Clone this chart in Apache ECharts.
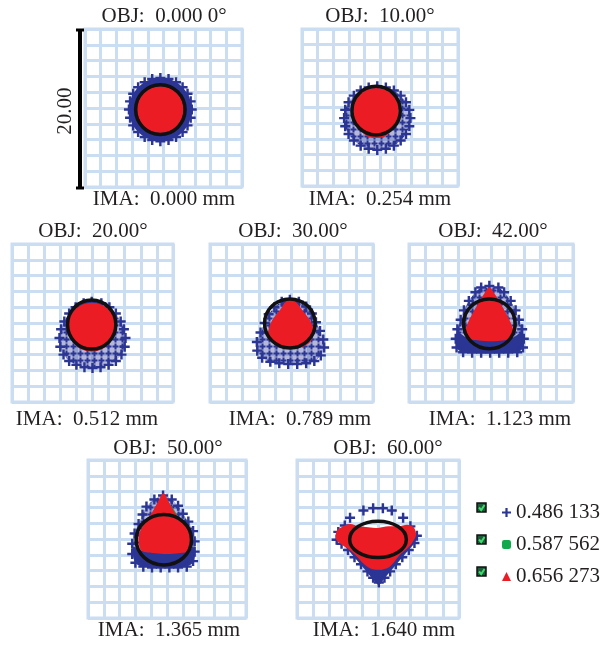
<!DOCTYPE html>
<html>
<head>
<meta charset="utf-8">
<script src="https://cdn.jsdelivr.net/npm/echarts@6/dist/echarts.min.js"></script>
<style>
html, body { margin: 0; padding: 0; background: #ffffff; }
#chart { width: 601px; height: 648px; }
</style>
</head>
<body>
<div id="chart"></div>
<script>
// Spot diagram: seven field points, three wavelengths, Airy disc outline.
// Units are micrometres on the image plane; each box spans 20.00 µm.

const fieldAngles = ['0.000 0°', '10.00°', '20.00°', '30.00°', '42.00°', '50.00°', '60.00°'];
const imageHeights = ['0.000', '0.254', '0.512', '0.789', '1.123', '1.365', '1.640'];
const wavelengths = ['0.486 133', '0.587 562', '0.656 273'];
const boxSize = '20.00';

// 0.486 µm ray hits along the rim of each spot, [x, y]
const blue0 = [[3.6,-0.2],[3.46,0.84],[3.06,1.8],[2.43,2.63],[1.6,3.26],[0.64,3.66],[-0.4,3.8],[-1.44,3.66],[-2.4,3.26],[-3.23,2.63],[-3.86,1.8],[-4.26,0.84],[-4.4,-0.2],[-4.26,-1.24],[-3.86,-2.2],[-3.23,-3.03],[-2.4,-3.66],[-1.44,-4.06],[-0.4,-4.2],[0.64,-4.06],[1.6,-3.66],[2.43,-3.03],[3.06,-2.2],[3.46,-1.24]];
const blue10 = [[3.9,-1.35],[3.76,-0.3],[3.33,0.68],[2.65,1.51],[1.78,2.16],[0.75,2.56],[-0.35,2.7],[-1.45,2.56],[-2.48,2.16],[-3.35,1.51],[-4.03,0.68],[-4.46,-0.3],[-4.6,-1.35],[-4.46,-2.4],[-4.03,-3.38],[-3.35,-4.21],[-2.48,-4.86],[-1.45,-5.26],[-0.35,-5.4],[0.75,-5.26],[1.78,-4.86],[2.65,-4.21],[3.33,-3.38],[3.76,-2.4]];
const blue20 = [[-0.1,2.7],[1.1,2.5],[2.1,2.0],[2.9,1.2],[3.5,0.2],[3.9,-0.8],[4.1,-1.9],[4.0,-3.0],[3.6,-4.0],[2.9,-4.8],[2.0,-5.3],[1.0,-5.6],[0,-5.7],[-1.0,-5.6],[-2.0,-5.3],[-2.9,-4.8],[-3.6,-4.0],[-4.0,-3.0],[-4.1,-1.9],[-3.9,-0.8],[-3.5,0.2],[-2.9,1.2],[-2.1,2.0],[-1.1,2.5]];
const blue30 = [[-0.2,2.95],[0.9,2.7],[1.8,2.1],[2.5,1.2],[3.0,0.1],[3.5,-1.0],[3.9,-2.1],[4.0,-3.1],[3.6,-4.1],[2.8,-4.8],[1.8,-5.1],[0.7,-5.2],[-0.4,-5.2],[-1.5,-5.1],[-2.6,-4.9],[-3.6,-4.4],[-4.2,-3.5],[-4.25,-2.4],[-3.8,-1.2],[-3.3,0.0],[-2.8,1.1],[-2.1,2.0],[-1.2,2.7]];
const blue42 = [[-0.2,4.7],[0.9,4.5],[1.6,3.9],[2.4,2.8],[3.0,1.6],[3.4,0.4],[3.8,-0.8],[4.0,-2.0],[3.9,-3.1],[3.2,-3.7],[2.1,-3.75],[1.0,-3.75],[-0.1,-3.75],[-1.2,-3.75],[-2.3,-3.75],[-3.4,-3.7],[-4.2,-3.1],[-4.3,-2.0],[-4.1,-0.8],[-3.7,0.4],[-3.3,1.6],[-2.7,2.8],[-1.9,3.9],[-1.2,4.5]];
const blue50 = [[-0.5,5.5],[0.6,5.0],[1.4,4.2],[2.0,3.2],[2.7,2.2],[3.3,1.0],[3.5,-0.3],[3.5,-1.6],[3.3,-2.8],[2.5,-3.5],[1.4,-3.6],[0.3,-3.6],[-0.8,-3.6],[-1.9,-3.6],[-3.0,-3.5],[-4.0,-3.0],[-4.4,-1.9],[-4.4,-0.6],[-4.1,0.7],[-3.6,1.9],[-3.1,3.1],[-2.6,4.1],[-1.6,5.0]];
const blue60 = [[-0.6,3.9],[0.6,3.9],[1.7,3.6],[3.1,2.7],[4.0,1.6],[4.8,0.4],[4.5,-0.5],[3.8,-1.4],[3.0,-2.3],[2.2,-3.2],[1.5,-4.1],[0.8,-4.9],[0.1,-5.5],[-0.6,-4.9],[-1.3,-4.1],[-2.1,-3.2],[-2.9,-2.3],[-3.7,-1.4],[-4.5,-0.6],[-5.1,-0.1],[-4.9,0.9],[-4.1,1.7],[-3.45,2.7],[-1.8,3.6]];

// regions where the 0.486 µm hits pile up into a solid patch
const blue42Core = [[-4.1,-1.2],[-2.9,-1.9],[0,-2.2],[2.6,-1.9],[3.8,-1.2],[3.9,-3.1],[3.2,-3.7],[-3.4,-3.7],[-4.2,-3.1]];
const blue50Core = [[-4.3,-1.0],[-3.2,-1.5],[0,-1.8],[2.9,-1.5],[3.5,-1.0],[3.4,-2.8],[2.5,-3.5],[-3.0,-3.5],[-4.0,-3.0]];
const blue60Core = [[-5.0,0.6],[-4.4,-0.5],[-3.6,-1.5],[-2.6,-2.7],[-1.6,-3.9],[-0.7,-5.0],[0.1,-5.8],[0.8,-5.0],[1.7,-3.9],[2.7,-2.7],[3.7,-1.5],[4.5,-0.5],[4.9,0.5],[3.5,1.0],[0,0.6],[-3.5,1.0]];

// 0.587 µm spot outlines
const green0 = [[2.2,-0.2],[1.44,1.64],[-0.4,2.4],[-2.24,1.64],[-3.0,-0.2],[-2.24,-2.04],[-0.4,-2.8],[1.44,-2.04]];
const green10 = [[2.1,-0.4],[1.34,1.44],[-0.5,2.2],[-2.34,1.44],[-3.1,-0.4],[-2.34,-2.24],[-0.5,-3.0],[1.34,-2.24]];
const green20 = [[2.4,-0.4],[1.6,1.5],[-0.1,2.2],[-1.8,1.5],[-2.6,-0.4],[-1.8,-2.4],[-0.1,-3.2],[1.6,-2.4]];
const green30 = [[-0.1,2.5],[2.0,0],[2.3,-1.8],[0.3,-2.8],[-2.1,-2.4],[-2.5,-0.2]];
const green42 = [[-0.2,3.8],[2.2,-0.5],[2.2,-1.8],[-0.2,-2.1],[-2.6,-1.8],[-2.6,-0.5]];
const green50 = [[-0.45,5.0],[2.6,0.5],[2.5,-1.4],[-0.5,-1.7],[-3.0,-1.3],[-3.0,0.5]];
const green60 = [[0,1.2],[3.8,1.2],[2.5,-1.8],[0.1,-3.5],[-2.5,-2.0],[-4.5,0.6]];

// 0.656 µm spot outlines
const red0 = [[2.55,-0.2],[2.33,0.93],[1.69,1.89],[0.73,2.53],[-0.4,2.75],[-1.53,2.53],[-2.49,1.89],[-3.13,0.93],[-3.35,-0.2],[-3.13,-1.33],[-2.49,-2.29],[-1.53,-2.93],[-0.4,-3.15],[0.73,-2.93],[1.69,-2.29],[2.33,-1.33]];
const red10 = [[2.4,-0.4],[2.18,0.71],[1.55,1.65],[0.61,2.28],[-0.5,2.5],[-1.61,2.28],[-2.55,1.65],[-3.18,0.71],[-3.4,-0.4],[-3.18,-1.73],[-2.55,-2.86],[-1.61,-3.68],[-0.5,-3.9],[0.61,-3.68],[1.55,-2.86],[2.18,-1.73]];
const red20 = [[2.85,-0.4],[2.63,0.73],[1.99,1.69],[1.03,2.33],[-0.1,2.55],[-1.23,2.33],[-2.19,1.69],[-2.83,0.73],[-3.05,-0.4],[-2.83,-1.64],[-2.19,-2.7],[-1.23,-3.4],[-0.1,-3.65],[1.03,-3.4],[1.99,-2.7],[2.63,-1.64]];
const red30 = [[-0.1,2.95],[0.6,2.6],[1.2,1.8],[1.8,1.0],[2.4,0.1],[2.7,-0.9],[2.6,-1.8],[2.2,-2.5],[1.4,-3.0],[0.4,-3.2],[-0.6,-3.2],[-1.6,-3.0],[-2.3,-2.5],[-2.75,-1.8],[-2.8,-0.9],[-2.5,0.1],[-1.9,1.0],[-1.3,1.8],[-0.8,2.6]];
const red42 = [[-0.2,4.5],[0.5,3.6],[1.2,2.4],[1.9,1.1],[2.5,-0.2],[2.75,-1.1],[2.6,-1.9],[1.5,-2.2],[0,-2.3],[-1.5,-2.2],[-2.9,-2.0],[-3.1,-1.1],[-2.9,-0.2],[-2.3,1.1],[-1.6,2.4],[-0.9,3.6]];
const red50 = [[-0.45,5.8],[0.3,4.6],[1.1,3.2],[2.2,2.0],[3.0,1.0],[3.2,-0.3],[2.9,-1.5],[1.5,-1.8],[0,-1.9],[-1.5,-1.8],[-3.2,-1.5],[-3.6,-0.3],[-3.4,1.0],[-2.8,2.0],[-2.0,3.2],[-1.2,4.6]];
const red60 = [[0,1.4],[1.3,1.6],[2.6,1.6],[3.6,1.8],[4.4,1.5],[4.7,0.5],[4.2,-0.5],[3.6,-1.2],[2.7,-2.0],[2.0,-2.9],[1.3,-3.6],[0.2,-3.9],[-1.0,-3.7],[-2.0,-2.9],[-2.8,-2.0],[-3.6,-1.3],[-4.5,-0.7],[-5.2,0.0],[-5.1,1.0],[-4.3,1.6],[-3.4,1.9],[-2.4,1.6],[-1.2,1.5]];

// Airy disc: [centre x, centre y, radius x, radius y]
const airy0 = [-0.4, -0.2, 3.15, 3.15];
const airy10 = [-0.5, -0.4, 3.1, 3.1];
const airy20 = [-0.1, -0.2, 3.0, 3.1];
const airy30 = [-0.2, -0.05, 3.1, 3.1];
const airy42 = [-0.2, -0.1, 3.15, 3.15];
const airy50 = [-0.4, -0.1, 3.5, 3.2];
const airy60 = [0.0, -0.05, 3.5, 2.3];

const spots = [
  { hits: blue0,  halo: null,   core: blue0,      green: green0,  red: red0,  airy: airy0 },
  { hits: blue10, halo: blue10, core: null,       green: green10, red: red10, airy: airy10 },
  { hits: blue20, halo: blue20, core: null,       green: green20, red: red20, airy: airy20 },
  { hits: blue30, halo: blue30, core: null,       green: green30, red: red30, airy: airy30 },
  { hits: blue42, halo: blue42, core: blue42Core, green: green42, red: red42, airy: airy42 },
  { hits: blue50, halo: blue50, core: blue50Core, green: green50, red: red50, airy: airy50 },
  { hits: blue60, halo: null,   core: blue60Core, green: green60, red: red60, airy: airy60 }
];

// ---- layout and styling ----
const boxes = [
  { left: 85,  top: 29,  width: 157, height: 158, titleX: 164, titleY: 23,  imaX: 164, imaY: 206 },
  { left: 302, top: 29,  width: 156, height: 157, titleX: 380, titleY: 23,  imaX: 380, imaY: 206 },
  { left: 12,  top: 244, width: 161, height: 158, titleX: 93,  titleY: 238, imaX: 87,  imaY: 426 },
  { left: 210, top: 244, width: 163, height: 158, titleX: 293, titleY: 238, imaX: 300, imaY: 426 },
  { left: 409, top: 244, width: 164, height: 158, titleX: 493, titleY: 238, imaX: 500, imaY: 426 },
  { left: 88,  top: 460, width: 158, height: 158, titleX: 168, titleY: 455, imaX: 169, imaY: 637 },
  { left: 297, top: 460, width: 162, height: 158, titleX: 388, titleY: 455, imaX: 384, imaY: 637 }
];

const FONT = "'Liberation Serif', 'Times New Roman', serif";
const TEXT = '#231f20';
const GRID = '#cbddf1';
const BLUE = '#2b3594';
const GREEN = '#12a84e';
const RED = '#ec1c24';
const PLUS = 'path://M3.4,0H5.6V3.4H9V5.6H5.6V9H3.4V5.6H0V3.4H3.4Z';

// texture of overlapping small crosses for the looser parts of a spot
function crossTexture() {
  const c = document.createElement('canvas');
  c.width = 7; c.height = 7;
  const g = c.getContext('2d');
  g.fillStyle = 'rgba(43,53,148,0.35)';
  g.fillRect(0, 0, 7, 7);
  g.fillStyle = BLUE;
  g.fillRect(2.5, 0.5, 2, 6);
  g.fillRect(0.5, 2.5, 6, 2);
  return { image: c, repeat: 'repeat' };
}
const TEXTURE = crossTexture();

function polygonSeries(name, pts, idx, fill, z) {
  return {
    type: 'custom', name: name, xAxisIndex: idx, yAxisIndex: idx,
    data: pts, silent: true, z: z, animation: false,
    renderItem: function (params, api) {
      if (params.dataIndex !== 0) return null;
      return {
        type: 'polygon',
        shape: { points: pts.map(function (p) { return api.coord(p); }), smooth: 0.3 },
        style: { fill: fill }
      };
    }
  };
}

function airySeries(airy, idx) {
  return {
    type: 'custom', name: 'Airy', xAxisIndex: idx, yAxisIndex: idx,
    data: [airy], silent: true, z: 7, animation: false,
    renderItem: function (params, api) {
      const c = api.coord([api.value(0), api.value(1)]);
      const s = api.size([api.value(2), api.value(3)]);
      return {
        type: 'ellipse',
        shape: { cx: c[0], cy: c[1], rx: s[0], ry: s[1] },
        style: { fill: 'none', stroke: '#111111', lineWidth: 3.5 }
      };
    }
  };
}

const grids = [], xAxes = [], yAxes = [], series = [], graphics = [];

spots.forEach(function (spot, i) {
  const b = boxes[i];
  grids.push({ left: b.left, top: b.top, width: b.width, height: b.height,
    show: true, borderColor: GRID, borderWidth: 3, backgroundColor: '#ffffff' });
  const axis = {
    gridIndex: i, type: 'value', min: -10, max: 10, interval: 2,
    axisLabel: { show: false }, axisTick: { show: false }, axisLine: { show: false },
    splitLine: { show: true, lineStyle: { color: GRID, width: 3 } }
  };
  xAxes.push(Object.assign({}, axis));
  yAxes.push(Object.assign({}, axis));

  if (spot.halo) series.push(polygonSeries(wavelengths[0], spot.halo, i, TEXTURE, 2));
  if (spot.core) series.push(polygonSeries(wavelengths[0], spot.core, i, BLUE, 3));
  series.push({
    type: 'scatter', name: wavelengths[0], xAxisIndex: i, yAxisIndex: i,
    data: spot.hits, symbol: PLUS, symbolSize: 10, silent: true, z: 4,
    itemStyle: { color: BLUE, opacity: 1 }, animation: false
  });
  series.push(polygonSeries(wavelengths[1], spot.green, i, GREEN, 5));
  series.push(polygonSeries(wavelengths[2], spot.red, i, RED, 6));
  series.push(airySeries(spot.airy, i));

  graphics.push({
    type: 'text', x: b.titleX, y: b.titleY - 7, silent: true,
    style: { text: 'OBJ:  ' + fieldAngles[i], font: '21px ' + FONT, fill: TEXT,
      textAlign: 'center', textVerticalAlign: 'middle' }
  });
  graphics.push({
    type: 'text', x: b.imaX, y: b.imaY - 7, silent: true,
    style: { text: 'IMA:  ' + imageHeights[i] + ' mm', font: '21px ' + FONT, fill: TEXT,
      textAlign: 'center', textVerticalAlign: 'middle' }
  });
});

// scale bar beside the first box
const sb = boxes[0];
const barX = sb.left - 5;
graphics.push({ type: 'line', silent: true,
  shape: { x1: barX, y1: sb.top + 1, x2: barX, y2: sb.top + sb.height + 1 },
  style: { stroke: '#000000', lineWidth: 4 } });
graphics.push({ type: 'line', silent: true,
  shape: { x1: barX - 4, y1: sb.top + 1, x2: barX + 4, y2: sb.top + 1 },
  style: { stroke: '#000000', lineWidth: 3 } });
graphics.push({ type: 'line', silent: true,
  shape: { x1: barX - 4, y1: sb.top + sb.height + 1, x2: barX + 4, y2: sb.top + sb.height + 1 },
  style: { stroke: '#000000', lineWidth: 3 } });
graphics.push({ type: 'text', silent: true, x: barX - 15, y: sb.top + sb.height / 2 + 3,
  rotation: Math.PI / 2,
  style: { text: boxSize, font: '21px ' + FONT, fill: TEXT, textAlign: 'center', textVerticalAlign: 'middle' } });

// ticked boxes in front of the wavelength legend
[0, 1, 2].forEach(function (k) {
  const y0 = 503 + k * 32;
  graphics.push({ type: 'rect', silent: true, shape: { x: 477, y: y0, width: 9, height: 9 },
    style: { fill: '#1c5a3a', stroke: '#111111', lineWidth: 1.5 } });
  graphics.push({ type: 'polyline', silent: true,
    shape: { points: [[479, y0 + 4.5], [481.2, y0 + 7], [484.5, y0 + 2]] },
    style: { stroke: '#3fdc6c', lineWidth: 2, fill: 'none' } });
});

const chart = echarts.init(document.getElementById('chart'), null, { renderer: 'canvas' });
chart.setOption({
  animation: false,
  backgroundColor: '#ffffff',
  grid: grids,
  xAxis: xAxes,
  yAxis: yAxes,
  legend: {
    orient: 'vertical', left: 497, top: 497, itemWidth: 9, itemHeight: 9, itemGap: 11,
    selectedMode: false,
    textStyle: { fontFamily: FONT, fontSize: 21, color: TEXT },
    data: [
      { name: wavelengths[0], icon: PLUS, itemStyle: { color: BLUE } },
      { name: wavelengths[1], icon: 'roundRect', itemStyle: { color: GREEN } },
      { name: wavelengths[2], icon: 'triangle', itemStyle: { color: RED } }
    ]
  },
  series: series,
  graphic: graphics
});
</script>
</body>
</html>
